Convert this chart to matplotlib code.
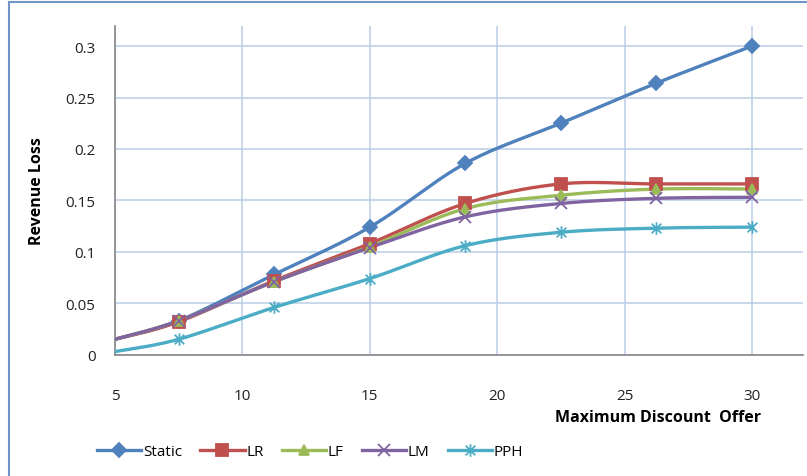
import numpy as np
import matplotlib
matplotlib.use('Agg')
import matplotlib.pyplot as plt
from matplotlib.path import Path
from matplotlib.patches import Rectangle

# discount offer (x) and revenue loss of each policy
offer = [5, 7.5, 11.25, 15, 18.75, 22.5, 26.25, 30]
static = [0.015, 0.033, 0.078, 0.124, 0.186, 0.225, 0.264, 0.300]
lr = [0.015, 0.032, 0.072, 0.108, 0.147, 0.166, 0.166, 0.166]
lf = [0.015, 0.033, 0.071, 0.105, 0.142, 0.155, 0.161, 0.161]
lm = [0.015, 0.033, 0.071, 0.104, 0.134, 0.147, 0.152, 0.153]
pph = [0.003, 0.015, 0.046, 0.074, 0.106, 0.119, 0.123, 0.124]

names = ['Static', 'LR', 'LF', 'LM', 'PPH']
colors = ['#4F81BD', '#C0504D', '#9BBB59', '#8064A2', '#4BACC6']

xticks = [5, 10, 15, 20, 25, 30]
yticks = [0, 0.05, 0.1, 0.15, 0.2, 0.25, 0.3]
yticklabels = ['0', '0.05', '0.1', '0.15', '0.2', '0.25', '0.3']


def smooth(x, y, n=30):
    # excel style smoothed line (bezier through the points)
    p = np.column_stack([x, y]).astype(float)
    p = np.vstack([p[0], p, p[-1]])
    out = []
    for i in range(1, len(p) - 2):
        p0, p1, p2, p3 = p[i - 1], p[i], p[i + 1], p[i + 2]
        c1 = p1 + (p2 - p0) / 6
        c2 = p2 - (p3 - p1) / 6
        t = np.linspace(0, 1, n)[:, None]
        seg = ((1 - t) ** 3) * p1 + 3 * ((1 - t) ** 2) * t * c1 + 3 * (1 - t) * t ** 2 * c2 + t ** 3 * p2
        out.append(seg)
    out = np.vstack(out)
    return out[:, 0], out[:, 1]


star = Path([(-1, -1), (1, 1), (-1, 1), (1, -1), (0, -1.3), (0, 1.3)],
            [Path.MOVETO, Path.LINETO, Path.MOVETO, Path.LINETO, Path.MOVETO, Path.LINETO])
markers = ['D', 's', '^', 'x', star]
msizes = [7, 8.5, 7.5, 8, 9]

plt.rcParams['font.family'] = ['Open Sans', 'DejaVu Sans']

fig = plt.figure(figsize=(8.07, 4.77), dpi=100)
fig.patches.append(Rectangle((9 / 807, -0.1), 1.2, 1.1 - 3 / 477,
                             transform=fig.transFigure, fill=False,
                             edgecolor='#6F94C8', lw=1.5))
ax = fig.add_axes([115 / 807, 1 - 355.7 / 477, (803 - 115) / 807, (355.7 - 27) / 477])

series = [static, lr, lf, lm, pph]
for name, vals, c, m, ms in zip(names, series, colors, markers, msizes):
    sx, sy = smooth(offer, vals)
    ax.plot(sx, sy, color=c, lw=2.4, solid_capstyle='round', zorder=3)
    ax.plot(offer[1:], vals[1:], ls='none', marker=m, ms=ms, color=c,
            mec=c, mew=1.3, zorder=4)
    ax.plot([], [], color=c, lw=2.4, marker=m, ms=ms, mec=c, mew=1.3, label=name)

ax.set_xlim(5, 32)
ax.set_ylim(0, 0.3195)
ax.set_xticks(xticks)
ax.set_yticks(yticks)
ax.set_yticklabels(yticklabels)
ax.grid(True, color='#B9CDE5', lw=1.1)
ax.set_axisbelow(True)
for s in ['top', 'right']:
    ax.spines[s].set_visible(False)
ax.spines['left'].set_color('#868686')
ax.spines['bottom'].set_color('#868686')
ax.spines['left'].set_linewidth(1.2)
ax.spines['bottom'].set_linewidth(1.2)
ax.tick_params(axis='both', length=0, labelsize=11, colors='#222222')
ax.tick_params(axis='x', pad=24)
ax.tick_params(axis='y', pad=14)

fig.text(658 / 807, 1 - 418 / 477, 'Maximum Discount  Offer', ha='center', va='center',
         fontsize=11.5, fontweight='bold')
fig.text(37 / 807, 1 - 191 / 477, 'Revenue Loss', ha='center', va='center',
         rotation=90, fontsize=11.5, fontweight='bold')

fig.legend(loc='center', bbox_to_anchor=(310 / 807, 1 - 453 / 477), ncol=5,
           frameon=False, fontsize=11, handlelength=2.9, columnspacing=1.2,
           handletextpad=0.1)

fig.savefig('out.png', dpi=100)
